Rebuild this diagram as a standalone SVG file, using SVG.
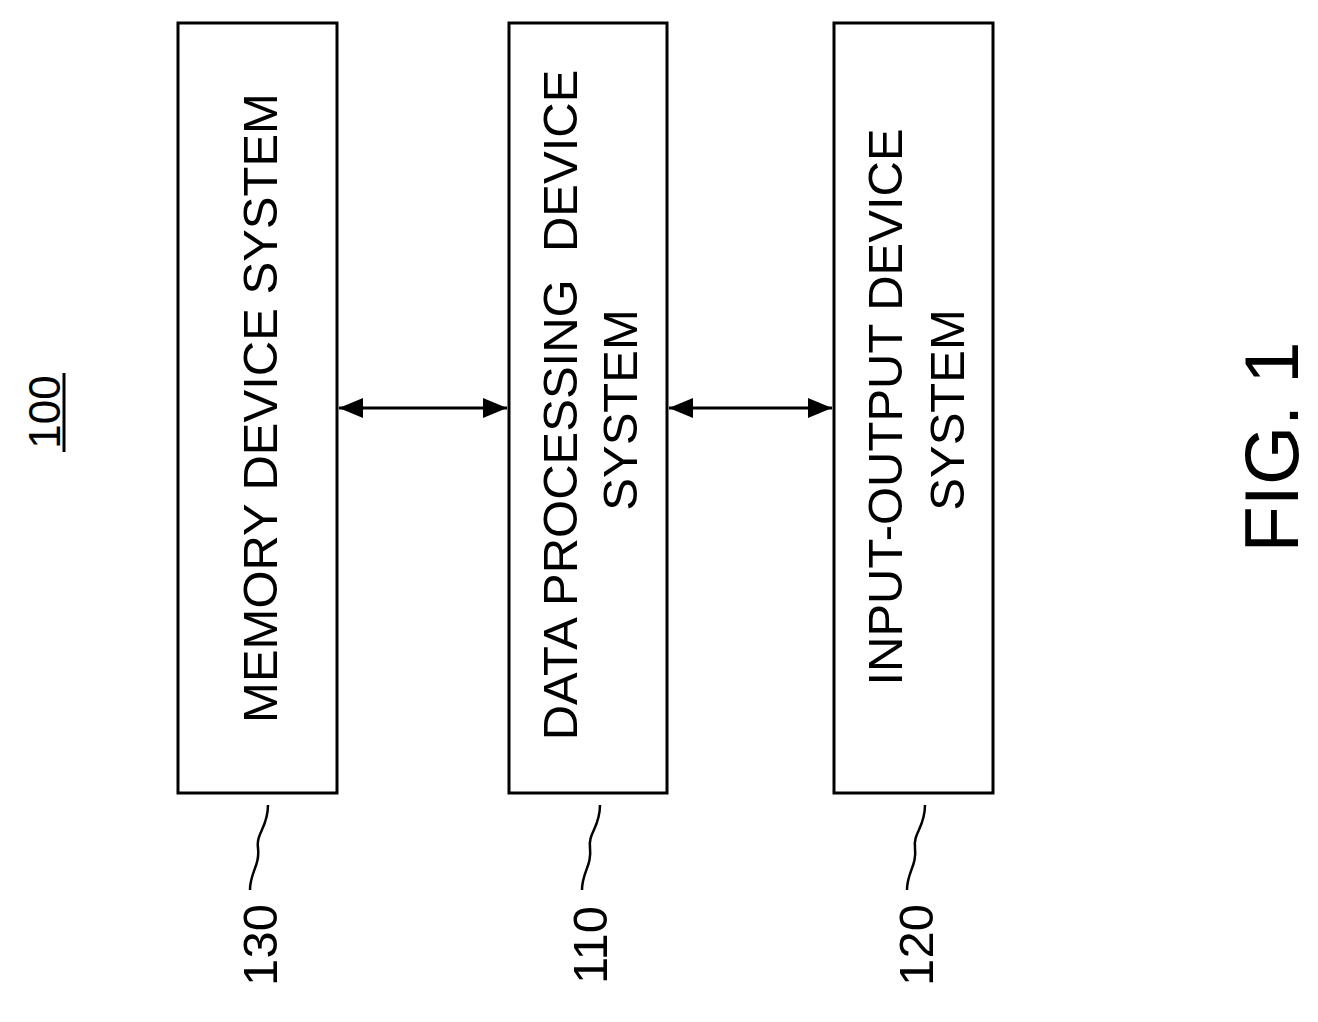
<svg xmlns="http://www.w3.org/2000/svg" width="1318" height="1022" viewBox="0 0 1318 1022">
<style>
.box{fill:#fff;stroke:#000;stroke-width:3}
text{font-family:"Liberation Sans",Arial,sans-serif;font-size:49px;text-anchor:middle;fill:#000}
.ln{fill:none;stroke:#000;stroke-width:2.5}
</style>
<defs>
<marker id="ah" viewBox="0 0 10 10" refX="10" refY="5" markerWidth="24" markerHeight="20" orient="auto-start-reverse" markerUnits="userSpaceOnUse" preserveAspectRatio="none"><path d="M0,0 L10,5 L0,10 Z" fill="#000"/></marker>
</defs>
<rect width="1318" height="1022" fill="#fff"/>
<g id="title">
<text transform="translate(60,412) rotate(-90)" style="font-size:44px">100</text>
<line x1="64" y1="373" x2="64" y2="452" stroke="#000" stroke-width="3"/>
</g>
<g id="n130">
<rect class="box" x="178" y="23" width="159" height="770"/>
<text transform="translate(277,408) rotate(-90)">MEMORY DEVICE SYSTEM</text>
<path class="ln" d="M268,805 C268,828 256,832 258,848 C260,866 250,872 250,890"/>
<text transform="translate(277,945) rotate(-90)">130</text>
</g>
<g id="n110">
<rect class="box" x="509" y="23" width="158" height="770"/>
<text transform="translate(577,405) rotate(-90)" xml:space="preserve">DATA PROCESSING  DEVICE</text>
<text transform="translate(637,410) rotate(-90)">SYSTEM</text>
<path class="ln" d="M600,805 C600,828 588,832 590,848 C592,866 582,872 582,890"/>
<text transform="translate(607,945) rotate(-90)">110</text>
</g>
<g id="n120">
<rect class="box" x="834" y="23" width="159" height="770"/>
<text transform="translate(902,407) rotate(-90)">INPUT-OUTPUT DEVICE</text>
<text transform="translate(964,410) rotate(-90)">SYSTEM</text>
<path class="ln" d="M925,805 C925,828 913,832 915,848 C917,866 907,872 907,890"/>
<text transform="translate(933,945) rotate(-90)">120</text>
</g>
<g id="connectors">
<line x1="339" y1="408" x2="507" y2="408" stroke="#000" stroke-width="3" marker-start="url(#ah)" marker-end="url(#ah)"/>
<line x1="669" y1="408" x2="832" y2="408" stroke="#000" stroke-width="3" marker-start="url(#ah)" marker-end="url(#ah)"/>
</g>
<text transform="translate(1298,447) rotate(-90)" style="font-size:76px">FIG. 1</text>
</svg>
